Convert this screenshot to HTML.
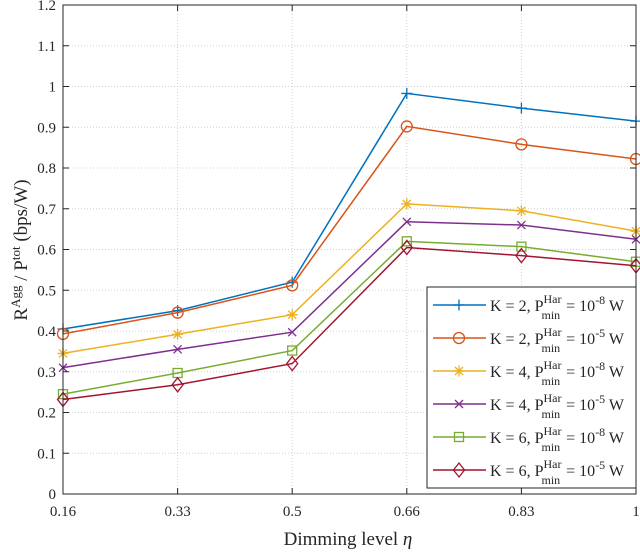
<!DOCTYPE html>
<html><head><meta charset="utf-8"><style>
body{margin:0;background:#fff;}
svg text{font-family:"Liberation Serif",serif;fill:#262626;}
</style></head><body>
<svg id="chart" width="640" height="552" xmlns="http://www.w3.org/2000/svg">
<g id="grid"></g>
<g id="series"></g>
<rect x="63" y="5" width="573" height="489" fill="none" stroke="#262626" stroke-width="1"/>
<g id="ticks"></g>
<text x="348" y="545" font-size="19" text-anchor="middle">Dimming level <tspan font-style="italic">η</tspan></text>
<text transform="translate(27,250) rotate(-90)" font-size="19" text-anchor="middle">R<tspan dy="-7" font-size="13">Agg</tspan><tspan dy="7"> / P</tspan><tspan dy="-7" font-size="13">tot</tspan><tspan dy="7"> (bps/W)</tspan></text>
<g id="legend"></g>
</svg>
<script>
const categories=["0.16","0.33","0.5","0.66","0.83","1"];
const yTicks=[0,0.1,0.2,0.3,0.4,0.5,0.6,0.7,0.8,0.9,1,1.1,1.2];
const yTickLabels=["0","0.1","0.2","0.3","0.4","0.5","0.6","0.7","0.8","0.9","1","1.1","1.2"];
const sK2m8=[0.405,0.45,0.52,0.983,0.947,0.915];
const sK2m5=[0.393,0.445,0.512,0.902,0.858,0.822];
const sK4m8=[0.345,0.392,0.44,0.712,0.695,0.645];
const sK4m5=[0.31,0.355,0.397,0.668,0.66,0.625];
const sK6m8=[0.245,0.297,0.352,0.62,0.607,0.57];
const sK6m5=[0.232,0.268,0.32,0.605,0.585,0.56];
const seriesLabels=[["2","-8"],["2","-5"],["4","-8"],["4","-5"],["6","-8"],["6","-5"]];
const colors=["#0072BD","#D95319","#EDB120","#7E2F8E","#77AC30","#A2142F"];
const markers=["plus","circle","star","x","square","diamond"];
const allSeries=[sK2m8,sK2m5,sK4m8,sK4m5,sK6m8,sK6m5];
const NS="http://www.w3.org/2000/svg";
const L=63,R=636,T=5,B=494;
const xs=i=>L+i*(R-L)/(categories.length-1);
const ys=v=>B-(v/1.2)*(B-T);
function mk(tag,attrs,parent){const e=document.createElementNS(NS,tag);for(const k in attrs)e.setAttribute(k,attrs[k]);parent.appendChild(e);return e;}
const grid=document.getElementById('grid'),ticks=document.getElementById('ticks');
yTicks.forEach((v,i)=>{
 const y=ys(v);
 if(i>0&&i<yTicks.length-1){const g=mk('line',{x1:L,x2:R,y1:y,y2:y,stroke:'#d0d0d0','stroke-dasharray':'1,2'},grid);
 
 }
 mk('line',{x1:L,x2:L+6,y1:y,y2:y,stroke:'#262626'},ticks);
 mk('line',{x1:R,x2:R-6,y1:y,y2:y,stroke:'#262626'},ticks);
 const t=mk('text',{x:L-7,y:y+5,'font-size':15,'text-anchor':'end'},ticks);t.textContent=yTickLabels[i];
 
 
});
categories.forEach((c,i)=>{
 const x=xs(i);
 if(i>0&&i<categories.length-1){const g=mk('line',{x1:x,x2:x,y1:T,y2:B,stroke:'#d0d0d0','stroke-dasharray':'1,2'},grid);
 
 }
 mk('line',{x1:x,x2:x,y1:B,y2:B-6,stroke:'#262626'},ticks);
 mk('line',{x1:x,x2:x,y1:T,y2:T+6,stroke:'#262626'},ticks);
 const t=mk('text',{x:x,y:B+22,'font-size':15,'text-anchor':'middle'},ticks);t.textContent=c;
 
 
});
function marker(type,x,y,c,parent){
 const s=5.5;let e;
 if(type==='plus')e=mk('path',{d:`M${x-s} ${y}H${x+s}M${x} ${y-s}V${y+s}`,stroke:c,fill:'none','stroke-width':1.3},parent);
 else if(type==='circle')e=mk('circle',{cx:x,cy:y,r:s,stroke:c,fill:'none','stroke-width':1.3},parent);
 else if(type==='star')e=mk('path',{d:`M${x-s} ${y}H${x+s}M${x} ${y-s}V${y+s}M${x-4} ${y-4}L${x+4} ${y+4}M${x-4} ${y+4}L${x+4} ${y-4}`,stroke:c,fill:'none','stroke-width':1.3},parent);
 else if(type==='x')e=mk('path',{d:`M${x-4} ${y-4}L${x+4} ${y+4}M${x-4} ${y+4}L${x+4} ${y-4}`,stroke:c,fill:'none','stroke-width':1.3},parent);
 else if(type==='square')e=mk('rect',{x:x-4.5,y:y-4.5,width:9,height:9,stroke:c,fill:'none','stroke-width':1.3},parent);
 else e=mk('path',{d:`M${x} ${y-7}L${x+5.5} ${y}L${x} ${y+7}L${x-5.5} ${y}Z`,stroke:c,fill:'none','stroke-width':1.3},parent);
 return e;
}
const sg=document.getElementById('series');
allSeries.forEach((arr,si)=>{
 const g=mk('g',{},sg);
 
 
 const pl=mk('polyline',{points:arr.map((v,i)=>xs(i)+','+ys(v)).join(' '),fill:'none',stroke:colors[si],'stroke-width':1.5},g);
 
 
 arr.forEach((v,i)=>{const m=marker(markers[si],xs(i),ys(v),colors[si],g);
  
  });
});
const lg=document.getElementById('legend');
const box=mk('rect',{x:427,y:287,width:209,height:201,fill:'#fff',stroke:'#262626'},lg);


seriesLabels.forEach((lab,i)=>{
 const y=305+i*33;
 const g=mk('g',{},lg);
 
 
 mk('line',{x1:433,x2:486,y1:y,y2:y,stroke:colors[i],'stroke-width':1.5},g);
 marker(markers[i],459,y,colors[i],g);
 const t=mk('text',{x:490,y:y+6,'font-size':16},g);
 t.innerHTML=`K = ${lab[0]}, P<tspan dy="-8" font-size="12">Har</tspan><tspan dx="-20" dy="16" font-size="12">min</tspan><tspan dx="2" dy="-8"> = 10</tspan><tspan dy="-7" font-size="12">${lab[1]}</tspan><tspan dy="7"> W</tspan>`;
});
</script>
</body></html>
